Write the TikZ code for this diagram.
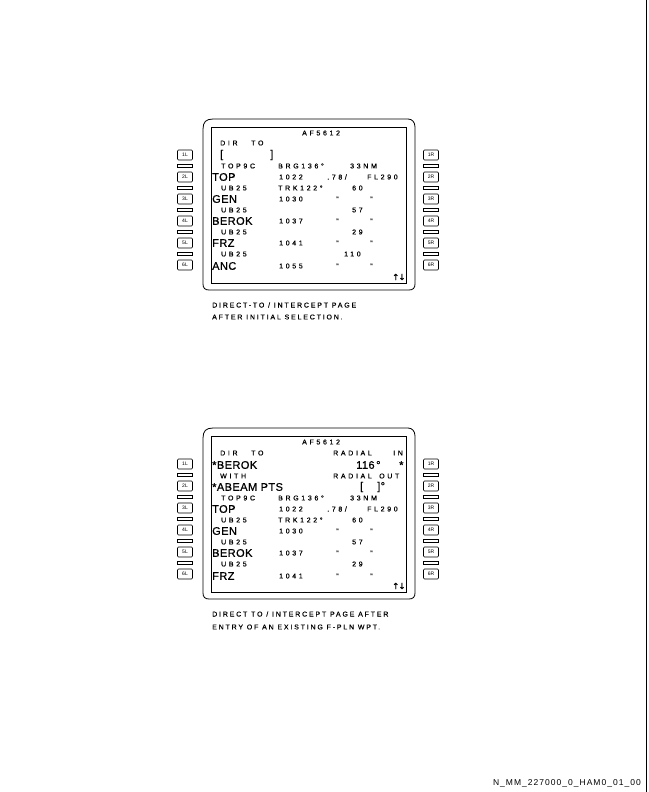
\documentclass[tikz,border=0pt]{standalone}
\usepackage{fontspec}
\setmainfont{Liberation Sans}
\newfontfamily\smf[LetterSpace=38,FakeBold=0.6]{Liberation Sans}
\newfontfamily\bgf[LetterSpace=4,FakeBold=0.8]{Liberation Sans}
\newfontfamily\capf[LetterSpace=26,FakeBold=0.5]{Liberation Sans}
\newfontfamily\footf[LetterSpace=12]{Liberation Sans}
\newfontfamily\arrf[FakeBold=1.2]{DejaVu Sans}
\begin{document}
\begin{tikzpicture}[x=1pt,y=-1pt,
  sm/.style={font=\smf\fontsize{7}{8}\selectfont, anchor=west, inner sep=0pt},
  bg/.style={font=\bgf\fontsize{11}{12}\selectfont, anchor=west, inner sep=0pt},
  captxt/.style={font=\capf\fontsize{7}{8}\selectfont, anchor=west, inner sep=0pt},
  arr/.style={font=\arrf\fontsize{8.5}{9}\selectfont, anchor=west, inner sep=0pt},
  btn/.style={draw, line width=0.6pt, rounded corners=1pt, minimum width=15pt, minimum height=10pt, inner sep=0pt, font=\fontsize{5}{5}\selectfont},
  sepbox/.style={draw, line width=0.6pt, minimum width=15pt, minimum height=3.5pt, inner sep=0pt},
  bezel/.style={line width=0.8pt}]
\useasboundingbox (0,0) rectangle (648,792);
\draw[line width=1.3pt] (646.5,0) coordinate (e1) -- (646.5,792) coordinate (e2);

% ---------- screen A ----------
\begin{scope}
\draw[bezel] (203,284) -- (203,129) .. controls (203,122) and (206,119) .. (213,119) -- (408,119) .. controls (412,119) and (415,122) .. (415,127) -- (415,284) .. controls (415,288) and (413,290) .. (409,290) -- (209,290) .. controls (205,290) and (203,288) .. (203,284);
\draw[bezel] (211,127) rectangle (406,283);
\foreach \i/\y in {1/155,2/177,3/199,4/221,5/243,6/265}{
  \node[btn] (aL\i) at (185,\y) {\i L};
  \node[btn] (aR\i) at (431,\y) {\i R};
}
\foreach \i/\y in {1/166,2/188,3/210,4/232,5/254}{
  \node[sepbox] (aLs\i) at (185,\y) {};
  \node[sepbox] (aRs\i) at (431,\y) {};
}
\node[sm] (a0) at (302,133) {AF5612};
\node[sm] (a1) at (220,143) {DIR};
\node[sm] (a1b) at (251,143) {TO};
\node[bg] (a2) at (220,155) {[};
\node[bg] (a2b) at (270,155) {]};
\node[sm] (a3) at (221,166) {TOP9C};
\node[sm] (a3b) at (278,166) {BRG136°};
\node[sm] (a3c) at (350,166) {33NM};
\node[bg] (a4) at (212,177) {TOP};
\node[sm] (a4b) at (279,177) {1022};
\node[sm] (a4c) at (327,177) {.78/};
\node[sm] (a4d) at (367,177) {FL290};
\node[sm] (a5) at (221,188) {UB25};
\node[sm] (a5b) at (278,188) {TRK122°};
\node[sm] (a5c) at (352,188) {60};
\node[bg] (a6) at (212,199) {GEN};
\node[sm] (a6b) at (279,199) {1030};
\node[sm] (a6c) at (336,199) {"};
\node[sm] (a6d) at (370,199) {"};
\node[sm] (a7) at (221,210) {UB25};
\node[sm] (a7b) at (352,210) {57};
\node[bg] (a8) at (212,221) {BEROK};
\node[sm] (a8b) at (279,221) {1037};
\node[sm] (a8c) at (336,221) {"};
\node[sm] (a8d) at (370,221) {"};
\node[sm] (a9) at (221,232) {UB25};
\node[sm] (a9b) at (352,232) {29};
\node[bg] (a10) at (212,243) {FRZ};
\node[sm] (a10b) at (279,243) {1041};
\node[sm] (a10c) at (336,243) {"};
\node[sm] (a10d) at (370,243) {"};
\node[sm] (a11) at (221,254) {UB25};
\node[sm] (a11b) at (344,254) {110};
\node[bg] (a12) at (212,266) {ANC};
\node[sm] (a12b) at (279,266) {1055};
\node[sm] (a12c) at (336,266) {"};
\node[sm] (a12d) at (370,266) {"};
\node[arr] (a13) at (392,277) {↑\kern-0.8pt↓};
\node[captxt] (ac1) at (212,305) {DIRECT-TO / INTERCEPT PAGE};
\node[captxt] (ac2) at (212,317) {AFTER INITIAL SELECTION.};
\end{scope}

% ---------- screen B ----------
\begin{scope}[shift={(0,309)}]
\draw[bezel] (203,284) -- (203,129) .. controls (203,122) and (206,119) .. (213,119) -- (408,119) .. controls (412,119) and (415,122) .. (415,127) -- (415,284) .. controls (415,288) and (413,290) .. (409,290) -- (209,290) .. controls (205,290) and (203,288) .. (203,284);
\draw[bezel] (211,127) rectangle (406,283);
\foreach \i/\y in {1/155,2/177,3/199,4/221,5/243,6/265}{
  \node[btn] (bL\i) at (185,\y) {\i L};
  \node[btn] (bR\i) at (431,\y) {\i R};
}
\foreach \i/\y in {1/166,2/188,3/210,4/232,5/254}{
  \node[sepbox] (bLs\i) at (185,\y) {};
  \node[sepbox] (bRs\i) at (431,\y) {};
}
\node[sm] (b0) at (302,133) {AF5612};
\node[sm] (b1) at (220,144) {DIR};
\node[sm] (b1a) at (251,144) {TO};
\node[sm] (b1b) at (333,144) {RADIAL};
\node[sm] (b1c) at (393,144) {IN};
\node[bg] (b2) at (212,156) {*BEROK};
\node[bg] (b2b) at (356,156) {116\kern1.5pt°};
\node[bg] (b2c) at (399,156) {*};
\node[sm] (b2d) at (220,167) {WITH};
\node[sm] (b2e) at (333,167) {RADIAL};
\node[sm] (b2ee) at (379,167) {OUT};
\node[bg] (b2f) at (212,178) {*ABEAM PTS};
\node[bg] (b2g) at (360,178) {[};
\node[bg] (b2h) at (377,178) {]°};
\node[sm] (b3) at (221,189) {TOP9C};
\node[sm] (b3b) at (278,189) {BRG136°};
\node[sm] (b3c) at (350,189) {33NM};
\node[bg] (b4) at (212,200) {TOP};
\node[sm] (b4b) at (279,200) {1022};
\node[sm] (b4c) at (327,200) {.78/};
\node[sm] (b4d) at (367,200) {FL290};
\node[sm] (b5) at (221,211) {UB25};
\node[sm] (b5b) at (278,211) {TRK122°};
\node[sm] (b5c) at (352,211) {60};
\node[bg] (b6) at (212,222) {GEN};
\node[sm] (b6b) at (279,222) {1030};
\node[sm] (b6c) at (336,222) {"};
\node[sm] (b6d) at (370,222) {"};
\node[sm] (b7) at (221,233) {UB25};
\node[sm] (b7b) at (352,233) {57};
\node[bg] (b8) at (212,244) {BEROK};
\node[sm] (b8b) at (279,244) {1037};
\node[sm] (b8c) at (336,244) {"};
\node[sm] (b8d) at (370,244) {"};
\node[sm] (b9) at (221,255) {UB25};
\node[sm] (b9b) at (352,255) {29};
\node[bg] (b10) at (212,267) {FRZ};
\node[sm] (b10b) at (279,267) {1041};
\node[sm] (b10c) at (336,267) {"};
\node[sm] (b10d) at (370,267) {"};
\node[arr] (b13) at (392,277) {↑\kern-0.8pt↓};
\node[captxt] (bc1) at (212,305) {DIRECT TO / INTERCEPT PAGE AFTER};
\node[captxt] (bc2) at (212,318) {ENTRY OF AN EXISTING F-PLN WPT.};
\end{scope}

\node[anchor=east, inner sep=0pt, font=\footf\fontsize{8.5}{9}\selectfont] (foot) at (641,783) {N\_MM\_227000\_0\_HAM0\_01\_00};
\end{tikzpicture}
\end{document}
